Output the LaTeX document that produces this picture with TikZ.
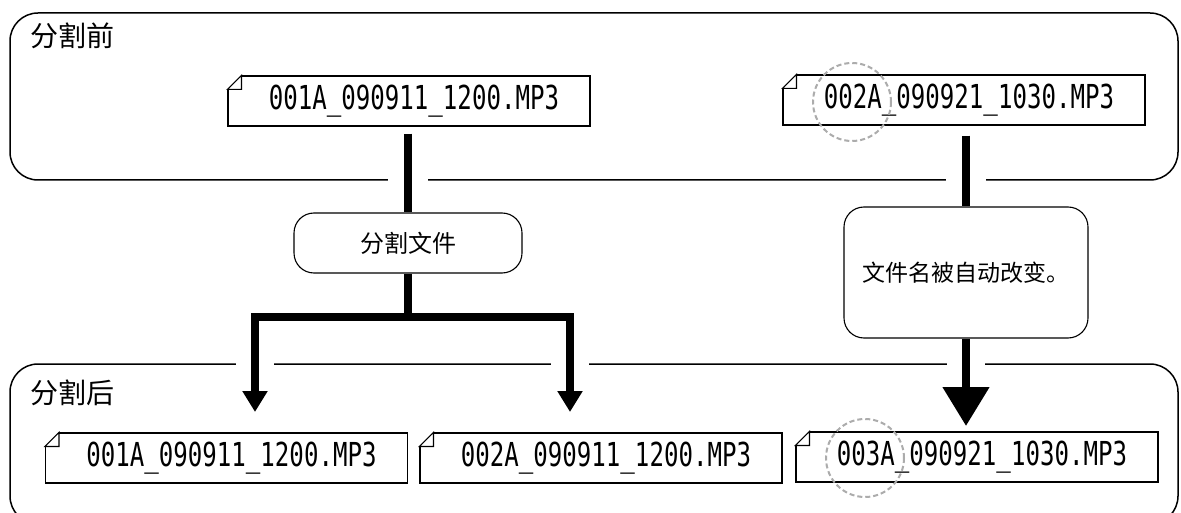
\documentclass[tikz,border=0pt]{standalone}
\usepackage{fontspec}
\setmainfont{Noto Sans CJK SC}
\newfontfamily\monofn{DejaVu Sans Mono}
\usetikzlibrary{arrows.meta}
\newcommand{\fname}[1]{\hspace*{10pt}\scalebox{0.73}[1]{\monofn\fontsize{33}{36}\selectfont #1}}

\begin{document}
\begin{tikzpicture}[x=1pt, y=-1pt, line join=miter,
    panelnode/.style={draw, line width=1.5pt, rounded corners=28pt, minimum width=1168pt, inner sep=0pt},
    filenode/.style={draw, line width=1.1pt, minimum width=362pt, minimum height=50pt, inner sep=0pt},
    notenode/.style={draw, line width=1.1pt, rounded corners=20pt, align=center, inner sep=0pt},
    lblnode/.style={anchor=west, inner sep=0pt, font=\fontsize{28}{30}\selectfont},
    hilite/.style={draw=gray!65, line width=2pt, dash pattern=on 5pt off 3pt, circle, minimum size=78pt, inner sep=0pt},
    flowarr/.style={line width=8pt, draw=black},
    smalltip/.style={flowarr, -{Triangle[width=24pt, length=21pt]}},
    bigtip/.style={flowarr, -{Triangle[width=45pt, length=39pt]}}]
  \useasboundingbox (0,0) rectangle (1181,513);
  \clip (0,0) rectangle (1181,513);
  \fill[white] (0,0) rectangle (1181,513);

  % panels
  \node[panelnode, minimum height=167pt] (before) at (594,96.5) {};
  \node[panelnode, minimum height=160pt] (after) at (594,444) {};
  \node[lblnode] (beforeLbl) at (30,36) {分割前};
  \node[lblnode] (afterLbl) at (30,393) {分割后};
  \foreach \gx in {408,966} \fill[white] (\gx-20,174) rectangle (\gx+20,188);
  \foreach \gx in {255,570,966} \fill[white] (\gx-19,357) rectangle (\gx+19,371);

  % file names
  \node[filenode] (srcA) at (409,101) {\fname{001A\_090911\_1200.MP3}};
  \node[filenode] (srcB) at (964,100) {\fname{002A\_090921\_1030.MP3}};
  \node[filenode] (outA) at (226.5,458) {\fname{001A\_090911\_1200.MP3}};
  \node[filenode] (outB) at (601,458) {\fname{002A\_090911\_1200.MP3}};
  \node[filenode] (outC) at (977,457) {\fname{003A\_090921\_1030.MP3}};
  \foreach \n in {srcA,srcB,outA,outB,outC} {
    \fill[white] ([shift={(-1pt,1pt)}]\n.north west) -- ++(16,0) -- ++(-16,16) -- cycle;
    \draw[line width=1.1pt] ([yshift=-14pt]\n.north west) -- ++(14,-14) -- ++(0,14) -- cycle;
  }
  \node[hilite] (markA) at (852,102) {};
  \node[hilite] (markB) at (865,458) {};

  % notes
  \node[notenode, minimum width=228pt, minimum height=60pt, font=\fontsize{24}{28}\selectfont] (split) at (408,243) {分割文件};
  \node[notenode, minimum width=244pt, minimum height=131pt, font=\fontsize{23}{28}\selectfont] (rename) at (966,272.5) {文件名被自动改变。};

  % connectors
  \coordinate (fork) at (408,317);
  \coordinate (tipA) at (255,412);
  \coordinate (tipB) at (570,412);
  \coordinate (tipC) at (966,426);
  \draw[flowarr] ([yshift=-7pt]srcA.south -| split.north) -- (split.north);
  \draw[flowarr] (split.south) -- (fork);
  \draw[smalltip] (fork) -| (tipA);
  \draw[smalltip] (fork) -| (tipB);
  \draw[flowarr] ([yshift=-10pt]srcB.south -| rename.north) -- (rename.north);
  \draw[bigtip] (rename.south) -- (tipC);
\end{tikzpicture}
\end{document}
